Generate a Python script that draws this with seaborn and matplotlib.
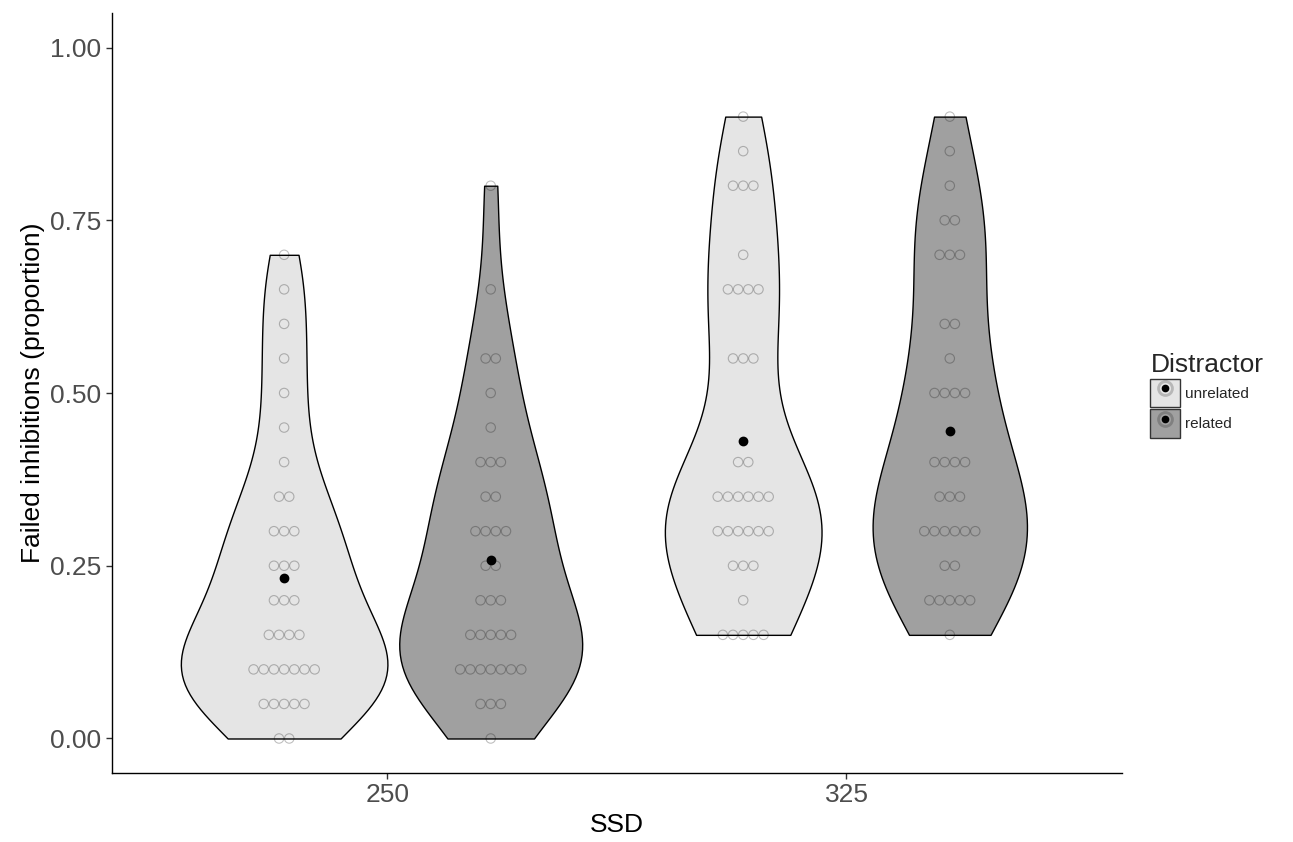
import numpy as np
import pandas as pd
import matplotlib
matplotlib.use("Agg")
import matplotlib.pyplot as plt
import seaborn as sns
from matplotlib.patches import Patch
from matplotlib.lines import Line2D
from matplotlib.legend_handler import HandlerTuple

sns.set_style("white")
plt.rcParams['font.family'] = ['Liberation Sans', 'DejaVu Sans']

# proportion levels seen in the dot stacks, with how many participants sit at each
levels = [0.00, 0.05, 0.10, 0.15, 0.20, 0.25, 0.30, 0.35, 0.40, 0.45,
          0.50, 0.55, 0.60, 0.65, 0.70, 0.75, 0.80, 0.85, 0.90]
counts_250_unrelated = [2, 5, 7, 4, 3, 3, 3, 2, 1, 1, 1, 1, 1, 1, 1, 0, 0, 0, 0]
counts_250_related = [1, 3, 7, 5, 3, 2, 4, 2, 3, 1, 1, 2, 0, 1, 0, 0, 1, 0, 0]
counts_325_unrelated = [0, 0, 0, 5, 1, 3, 6, 6, 2, 0, 0, 3, 0, 4, 1, 0, 3, 1, 1]
counts_325_related = [0, 0, 0, 1, 5, 2, 6, 3, 4, 0, 4, 1, 2, 0, 3, 2, 1, 1, 1]

ssd_order = ['250', '325']
distractor_order = ['unrelated', 'related']
fill_colors = {'unrelated': '#E5E5E5', 'related': '#A0A0A0'}

groups = {
    ('250', 'unrelated'): counts_250_unrelated,
    ('250', 'related'): counts_250_related,
    ('325', 'unrelated'): counts_325_unrelated,
    ('325', 'related'): counts_325_related,
}

hue_off = {'unrelated': -0.225, 'related': 0.225}

rows = []
for (ssd, dist), cnt in groups.items():
    xpos = ssd_order.index(ssd) + hue_off[dist]
    for lev, c in zip(levels, cnt):
        rows += [(ssd, dist, xpos, lev)] * c
df = pd.DataFrame(rows, columns=['SSD', 'Distractor', 'xpos', 'prop'])


def nrd0(v):
    sd = v.std(ddof=1)
    iqr = np.subtract(*np.percentile(v, [75, 25]))
    return 0.9 * min(sd, iqr / 1.34) * len(v) ** -0.2


# per-violin bandwidth (R default rule) and peak density, so widths follow area scaling
info = {}
for key in groups:
    v = df[(df['SSD'] == key[0]) & (df['Distractor'] == key[1])]['prop'].values
    bw = nrd0(v)
    grid = np.linspace(v.min(), v.max(), 512)
    dens = np.exp(-0.5 * ((grid[:, None] - v[None, :]) / bw) ** 2).sum(1)
    dens /= len(v) * bw * np.sqrt(2 * np.pi)
    sd = v.std(ddof=1)
    info[key] = (bw / (sd * len(v) ** -0.2), dens.max())
peak_max = max(p for _, p in info.values())

fig = plt.figure(figsize=(12.93, 8.42), dpi=100)
ax = fig.add_axes([0.0866, 0.0819, 0.7811, 0.9027])

for key, (adj, peak) in info.items():
    sub = df[(df['SSD'] == key[0]) & (df['Distractor'] == key[1])]
    sns.violinplot(data=sub, x='xpos', y='prop', native_scale=True, orient='x',
                   color=fill_colors[key[1]], cut=0, inner=None,
                   width=0.45 * peak / peak_max, density_norm='width', bw_adjust=adj,
                   linecolor='black', linewidth=1.0, saturation=1, ax=ax)

# centered dot stacks (like geom_dotplot, stackdir = "center")
dot_w = 0.0222
for (ssd, dist), cnt in groups.items():
    xs, ys = [], []
    base = ssd_order.index(ssd) + hue_off[dist]
    for lev, c in zip(levels, cnt):
        for k in range(c):
            xs.append(base + (k - (c - 1) / 2) * dot_w)
            ys.append(lev)
    ax.scatter(xs, ys, s=46, facecolors='none', edgecolors=(0, 0, 0, 0.25),
               linewidths=0.8, zorder=3)

sns.pointplot(data=df, x='xpos', y='prop', native_scale=True, orient='x',
              estimator='mean', errorbar=None, linestyle='none', color='black',
              markers='o', markersize=5, ax=ax, zorder=4)

ax.set_xlim(-0.6, 1.6)
ax.set_ylim(-0.05, 1.05)
ax.set_xticks([0, 1])
ax.set_xticklabels(ssd_order)
ax.set_yticks([0, 0.25, 0.5, 0.75, 1.0])
ax.set_yticklabels(['0.00', '0.25', '0.50', '0.75', '1.00'])
ax.set_xlabel('SSD', fontsize=19, color='black')
ax.set_ylabel('Failed inhibitions (proportion)', fontsize=19, color='black')
ax.tick_params(axis='both', labelsize=19, labelcolor='#4D4D4D', length=4,
               width=1, color='#333333', direction='out', left=True, bottom=True)
for side in ['top', 'right']:
    ax.spines[side].set_visible(False)
for side in ['left', 'bottom']:
    ax.spines[side].set_color('black')
    ax.spines[side].set_linewidth(1.0)

handles = []
for dist in distractor_order:
    handles.append((Patch(facecolor=fill_colors[dist], edgecolor='#333333', linewidth=1.0),
                    Line2D([], [], marker='o', linestyle='none', markersize=10,
                           markerfacecolor='none', markeredgecolor=(0, 0, 0, 0.2),
                           markeredgewidth=2.0),
                    Line2D([], [], marker='o', linestyle='none', markersize=4.5,
                           color='black')))
leg = fig.legend(handles, distractor_order, title='Distractor',
                 handler_map={tuple: HandlerTuple(ndivide=1, pad=0)},
                 loc='upper left', bbox_to_anchor=(0.885, 0.588), frameon=False,
                 fontsize=11, title_fontsize=19, handlelength=1.95, handleheight=2.5,
                 labelspacing=0.12, handletextpad=0.3, borderaxespad=0)
leg._legend_box.align = 'left'

fig.savefig('out.png', dpi=100)
